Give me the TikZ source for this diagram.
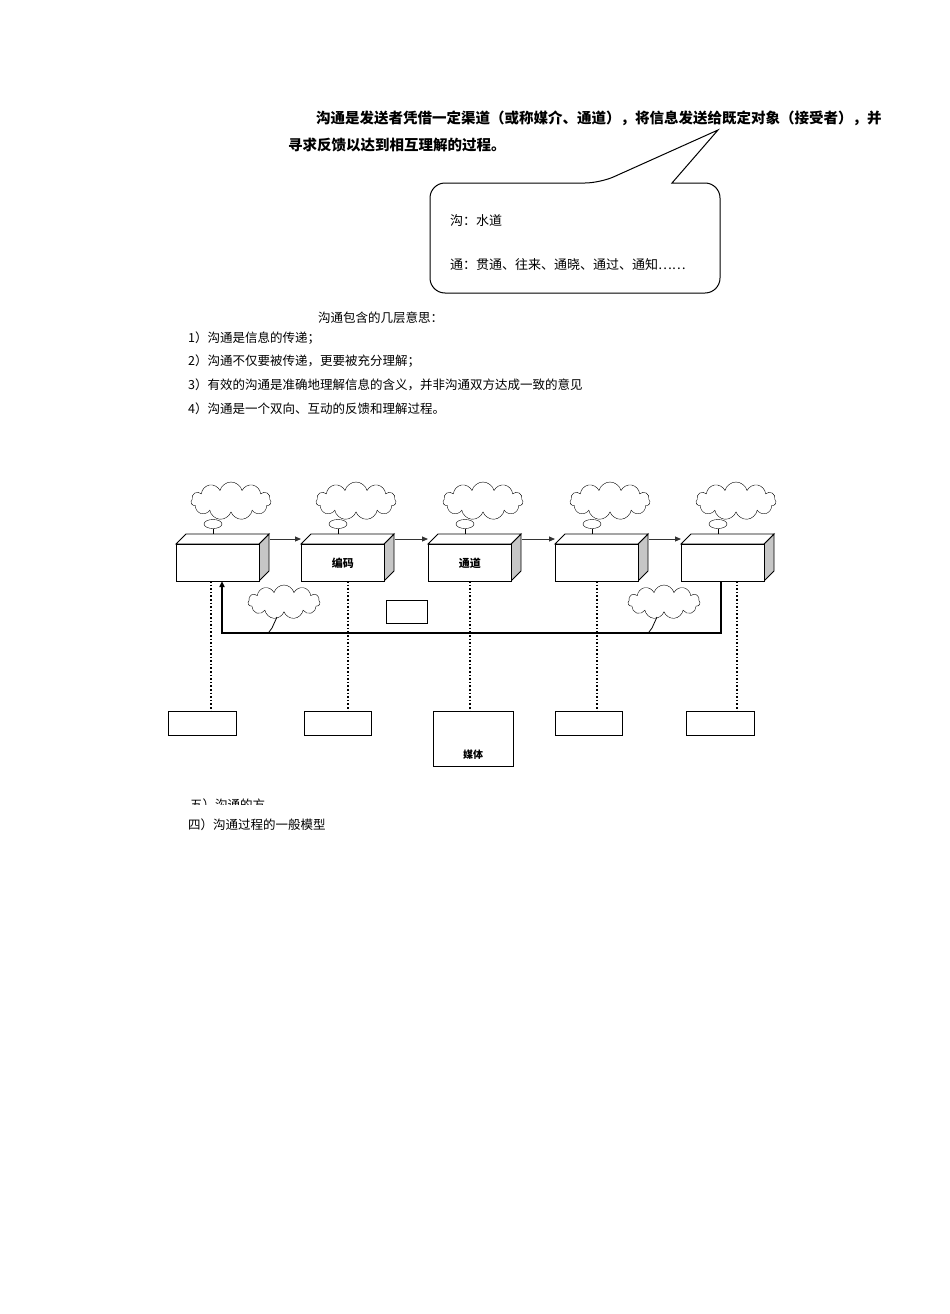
\documentclass[tikz,border=0pt]{standalone}
\usepackage{fontspec}
\setmainfont{Noto Sans CJK SC}
\usetikzlibrary{shapes.symbols,shapes.geometric,arrows.meta}
\begin{document}
\begin{tikzpicture}[x=1pt,y=-1pt,
  txt/.style={anchor=west,inner sep=0pt,font=\fontsize{12.5}{14}\selectfont},
  front/.style={draw,fill=white,line width=0.9pt},
  side/.style={draw,fill=gray!45,line width=0.9pt},
  topf/.style={draw,fill=white,line width=0.9pt},
  thought/.style={cloud,cloud puffs=11,draw,fill=white,minimum width=80pt,minimum height=38pt,aspect=2.2},
  arr/.style={-{Triangle[length=6pt,width=5pt]},line width=0.9pt,gray!40!black},
  dots/.style={dotted,line width=1.6pt},
  lbox/.style={draw,line width=0.9pt,fill=white}]
\useasboundingbox (0,0) rectangle (950,1314);
% callout
\node[txt,font=\fontsize{14.5}{16}\selectfont\bfseries] (t1) at (316,118) {沟通是发送者凭借一定渠道（或称媒介、通道），将信息发送给既定对象（接受者），并};
\node[txt,font=\fontsize{14.5}{16}\selectfont\bfseries] (t2) at (288,145) {寻求反馈以达到相互理解的过程。};
\draw[line width=1pt,fill=white] (600,183) -- (718,130) -- (672,183) [rounded corners=15pt] -- (720,183) -- (720,293) -- (430,293) -- (430,183) -- cycle;
\node[txt,font=\fontsize{13}{14}\selectfont] (c1) at (450,221) {沟：水道};
\node[txt,font=\fontsize{13}{14}\selectfont] (c2) at (450,265) {通：贯通、往来、通晓、通过、通知……};
% list
\node[txt] (h) at (318,318) {沟通包含的几层意思：};
\node[txt] (l1) at (188,338) {1）沟通是信息的传递；};
\node[txt] (l2) at (188,361) {2）沟通不仅要被传递，更要被充分理解；};
\node[txt] (l3) at (188,385) {3）有效的沟通是准确地理解信息的含义，并非沟通双方达成一致的意见};
\node[txt] (l4) at (188,409) {4）沟通是一个双向、互动的反馈和理解过程。};
% boxes
\foreach \i/\x/\lab in {1/176/,2/301/编码,3/428/通道,4/555/,5/681/}{
  \draw[side] (\x+83,544) -- (\x+93,534) -- (\x+93,571) -- (\x+83,581) -- cycle;
  \draw[topf] (\x,544) -- (\x+10,534) -- (\x+93,534) -- (\x+83,544) -- cycle;
  \node[front,minimum width=83pt,minimum height=37pt,anchor=north west,inner sep=0pt,font=\bfseries\fontsize{11}{12}\selectfont] (b\i) at (\x,544) {\lab};
  \node[thought] (k\i) at (\x+55,501) {};
  \node[shape=ellipse,draw,fill=white,minimum width=18pt,minimum height=9pt,inner sep=0pt] (e\i) at (\x+37,524) {};
  \draw (e\i.south) -- (\x+37,534);
}
\foreach \a/\b in {1/2,2/3,3/4,4/5}{
  \draw[arr] ([xshift=10pt,yshift=5pt]b\a.north east) -- ([yshift=5pt]b\b.north west);
}
% bottom boxes
\node[lbox,minimum width=68pt,minimum height=24pt,anchor=north west] (d1) at (168,711) {};
\node[lbox,minimum width=67pt,minimum height=24pt,anchor=north west] (d2) at (304,711) {};
\node[lbox,minimum width=80pt,minimum height=55pt,anchor=north west,inner sep=0pt] (d3) at (433,711) {};
\node[font=\bfseries\fontsize{10}{11}\selectfont] (m) at (473,755) {媒体};
\node[lbox,minimum width=67pt,minimum height=24pt,anchor=north west] (d4) at (555,711) {};
\node[lbox,minimum width=68pt,minimum height=24pt,anchor=north west] (d5) at (686,711) {};
\foreach \x/\i in {211/1,348/2,470/3,597/4,737/5}{
  \draw[dots] (\x,581) -- (\x,711);
}
% feedback
\coordinate (f1) at (721,581);
\coordinate (f2) at (222,581);
\draw[line width=1.8pt,-{Triangle[length=6pt,width=5pt]}] (f1) -- (721,633) -- (222,633) -- (f2);
\node[lbox,minimum width=41pt,minimum height=23pt,anchor=north west] (s) at (386,600) {};
\node[thought,minimum width=72pt,minimum height=34pt] (q1) at (284,602) {};
\node[thought,minimum width=72pt,minimum height=34pt] (q2) at (664,602) {};
\draw[line width=0.8pt] (277,617) -- (272,628) -- (269,632);
\draw[line width=0.8pt] (657,617) -- (652,628) -- (649,632);
% footer
\begin{scope}
\clip (180,795) rectangle (400,804);
\node[txt] (f5) at (190,805) {五）沟通的方};
\end{scope}
\node[txt] (f4) at (188,825) {四）沟通过程的一般模型};
\end{tikzpicture}
\end{document}
